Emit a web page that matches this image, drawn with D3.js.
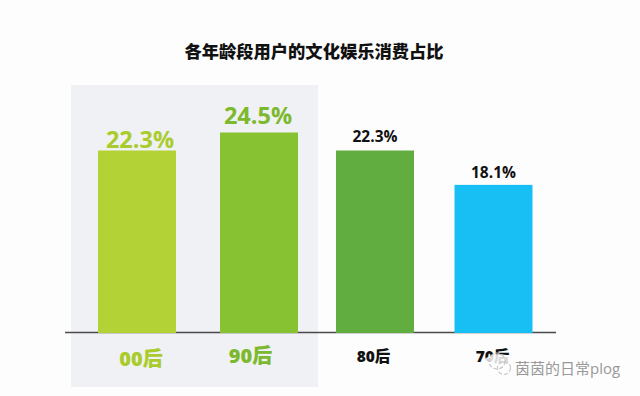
<!DOCTYPE html>
<html>
<head>
<meta charset="utf-8">
<script src="https://cdn.jsdelivr.net/npm/d3@7"></script>
<style>
  html, body { margin: 0; padding: 0; background: #fdfdfd; }
  svg { display: block; }
  text { font-family: "Open Sans", "Noto Sans CJK SC", sans-serif; }
</style>
</head>
<body>
<div id="chart-area"></div>
<script>
var titleText = "各年龄段用户的文化娱乐消费占比";
var categories = ["00后", "90后", "80后", "70后"];
var values = [22.3, 24.5, 22.3, 18.1];
var valueLabels = ["22.3%", "24.5%", "22.3%", "18.1%"];
var barColors = ["#b2d235", "#86c232", "#62ad3f", "#17bff5"];
var labelColors = ["#a9cc2c", "#7db92e", "#111111", "#111111"];
var highlighted = ["00后", "90后"];
var watermark = "茵茵的日常plog";

var width = 640;
var height = 396;
var baseline = 333;
var barWidth = 78;

// labels in the picture do not sit exactly on their bars
var valueGap = [3, 8.5, 9, 6.5];
var valueShiftX = [3, -1, 0, 0];
var tickShiftX = [3.5, -9, -2, -1.5];
var tickY = [33, 30, 29, 29];

var svg = d3.select("#chart-area")
  .append("svg")
    .attr("width", width)
    .attr("height", height);

// the bars are not evenly spaced in the picture, so ordinal and not band
var x = d3.scaleOrdinal()
  .domain(categories)
  .range([137, 259, 375, 493.5]);

var y = d3.scaleLinear()
  .domain([0, 24.5])
  .range([baseline, 132.5]);

// grey panel behind the two young groups
svg.append("rect")
  .attr("x", 71)
  .attr("y", 85)
  .attr("width", 247)
  .attr("height", 302)
  .attr("fill", "#f0f1f4");

svg.append("text")
  .attr("x", 314)
  .attr("y", 57.5)
  .attr("text-anchor", "middle")
  .attr("font-size", 17.3)
  .attr("font-weight", 900)
  .attr("fill", "#111")
  .text(titleText);

// x axis, line runs past the last bar
var xAxisCall = d3.axisBottom(x).tickSize(0).tickPadding(0);
var xAxisGroup = svg.append("g")
  .attr("class", "x axis")
  .attr("transform", "translate(0," + baseline + ")")
  .call(xAxisCall);

xAxisGroup.select(".domain").remove();

svg.append("line")
  .attr("x1", 65)
  .attr("x2", 556)
  .attr("y1", baseline - 0.5)
  .attr("y2", baseline - 0.5)
  .attr("stroke", "#4a4a4a")
  .attr("stroke-width", 1.5);

xAxisGroup.selectAll("text")
  .attr("text-anchor", "middle")
  .attr("font-family", "\"Open Sans\", \"Noto Sans CJK SC\", sans-serif")
  .attr("font-weight", 800)
  .attr("font-size", function(d) {
    return highlighted.indexOf(d) >= 0 ? 20 : 15.5;
  })
  .attr("fill", function(d) {
    return labelColors[categories.indexOf(d)];
  })
  .attr("dy", 0)
  .attr("x", function(d) {
    return tickShiftX[categories.indexOf(d)];
  })
  .attr("y", function(d) {
    return tickY[categories.indexOf(d)];
  });

svg.selectAll("rect.bar")
  .data(values)
  .enter()
  .append("rect")
    .attr("class", "bar")
    .attr("x", function(d, i) { return x(categories[i]) - barWidth / 2; })
    .attr("y", function(d) { return y(d); })
    .attr("width", barWidth)
    .attr("height", function(d) { return baseline - y(d); })
    .attr("fill", function(d, i) { return barColors[i]; });

svg.selectAll("text.value")
  .data(values)
  .enter()
  .append("text")
    .attr("class", "value")
    .attr("x", function(d, i) { return x(categories[i]) + valueShiftX[i]; })
    .attr("y", function(d, i) { return y(d) - valueGap[i]; })
    .attr("text-anchor", "middle")
    .attr("font-weight", 700)
    .attr("font-size", function(d, i) { return i < 2 ? 23.5 : 15.5; })
    .attr("fill", function(d, i) { return labelColors[i]; })
    .text(function(d, i) { return valueLabels[i]; });

// watermark: wechat style icon and account name
var mark = svg.append("g").attr("transform", "translate(494,368)");
mark.append("ellipse")
  .attr("cx", 5).attr("cy", -2).attr("rx", 17).attr("ry", 12)
  .attr("fill", "#fdfdfd").attr("opacity", 0.85);
mark.append("circle")
  .attr("cx", 3).attr("cy", -7).attr("r", 8)
  .attr("fill", "none").attr("stroke", "#c4c4c4")
  .attr("stroke-width", 1.2).attr("stroke-dasharray", "4 2");
mark.append("circle")
  .attr("cx", 10).attr("cy", 0).attr("r", 6.5)
  .attr("fill", "none").attr("stroke", "#c9c9c9")
  .attr("stroke-width", 1.2).attr("stroke-dasharray", "4 2");

svg.append("text")
  .attr("x", 515)
  .attr("y", 374)
  .attr("font-size", 15)
  .attr("fill", "#999")
  .text(watermark);
</script>
</body>
</html>
